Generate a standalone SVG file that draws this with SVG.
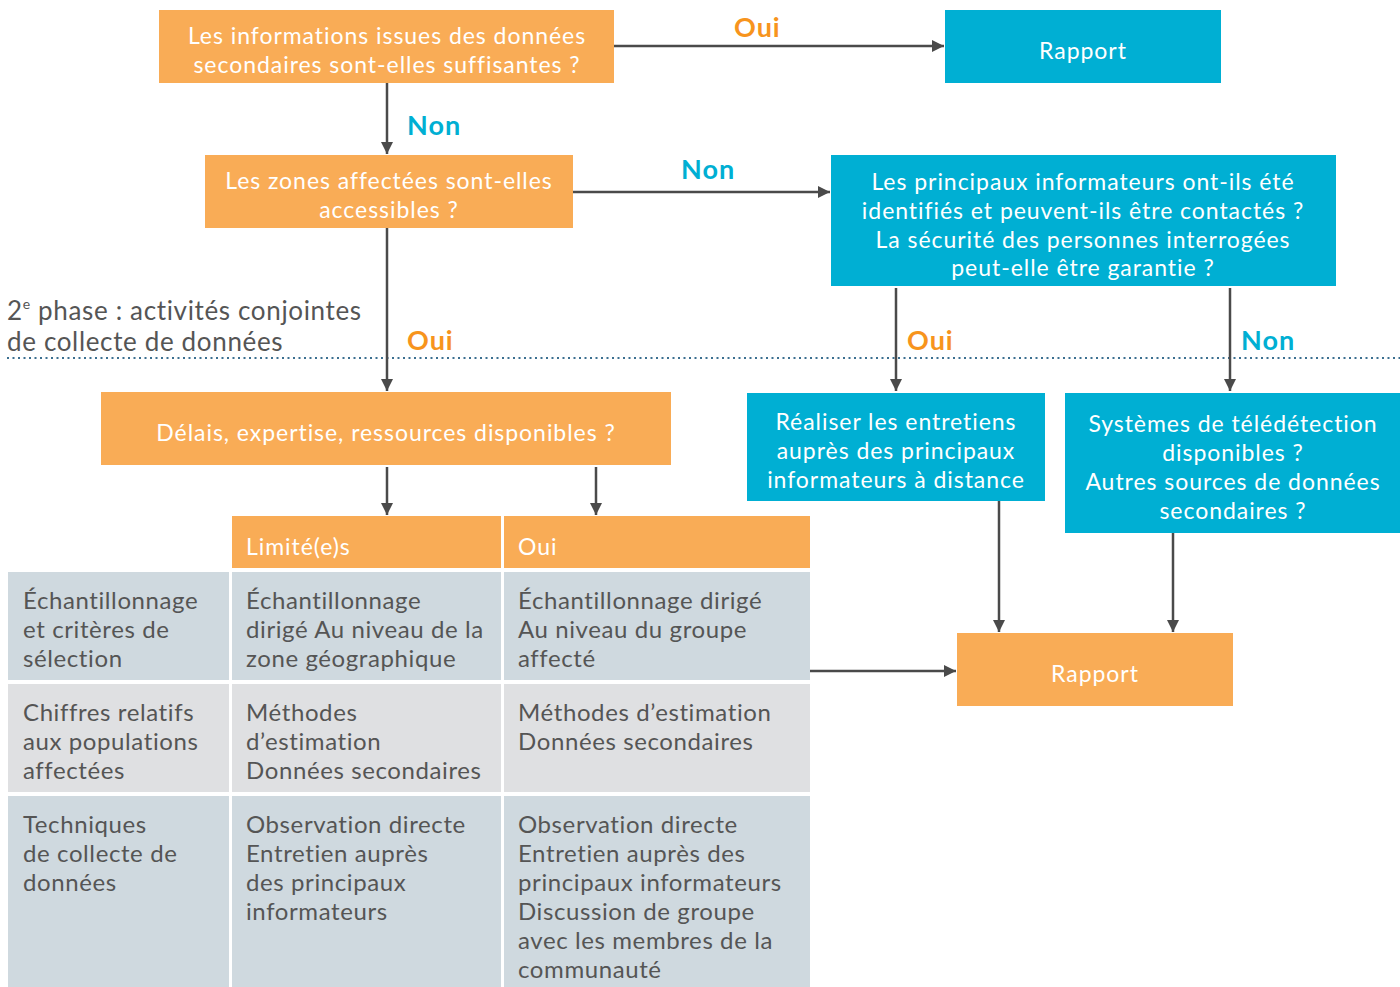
<svg xmlns="http://www.w3.org/2000/svg" width="1400" height="987" viewBox="0 0 1400 987">
<defs>
<marker id="ah" viewBox="0 0 12 12" refX="12" refY="6" markerWidth="12" markerHeight="12" markerUnits="userSpaceOnUse" orient="auto">
<path d="M0,0 L12,6 L0,12 z" fill="#4a4a4a"/>
</marker>
<style>
.or{fill:#f9ac56}
.bl{fill:#00afd3}
.t{font-family:Lato,"Noto Sans",sans-serif;font-size:23px;letter-spacing:0.95px;fill:#fff;text-anchor:middle}
.lbo{font-family:Lato,"Noto Sans",sans-serif;font-size:27px;letter-spacing:1px;font-weight:bold;fill:#f7941d}
.lbn{font-family:Lato,"Noto Sans",sans-serif;font-size:27px;letter-spacing:1px;font-weight:bold;fill:#00afd3}
.c{stroke:#4a4a4a;stroke-width:2.5;fill:none;marker-end:url(#ah)}
.tb{font-family:Lato,"Noto Sans",sans-serif;font-size:24px;letter-spacing:0.6px;fill:#555}
.th{font-family:Lato,"Noto Sans",sans-serif;font-size:23px;letter-spacing:0.95px;fill:#fff}
.ph{font-family:Lato,"Noto Sans",sans-serif;font-size:26px;letter-spacing:0.65px;fill:#555}
.r1{fill:#cfd9df}
.r2{fill:#dfe0e2}
</style>
</defs>
<rect width="1400" height="987" fill="#fff"/>

<g id="phase">
<text class="ph" x="7" y="320">2<tspan font-size="14" dy="-11">e</tspan><tspan dy="11"> phase : activités conjointes</tspan></text>
<text class="ph" x="7" y="351">de collecte de données</text>
<line x1="7" y1="358" x2="1400" y2="358" stroke="#3b6f90" stroke-width="2" stroke-dasharray="2 3.5"/>
</g>

<g id="n1"><rect class="or" x="159" y="10" width="455" height="73"/>
<text class="t" x="387" y="44">Les informations issues des données</text>
<text class="t" x="387" y="73">secondaires sont-elles suffisantes ?</text></g>

<g id="n2"><rect class="bl" x="945" y="10" width="276" height="73"/>
<text class="t" x="1083" y="59">Rapport</text></g>

<g id="n3"><rect class="or" x="205" y="155" width="368" height="73"/>
<text class="t" x="389" y="189">Les zones affectées sont-elles</text>
<text class="t" x="389" y="218">accessibles ?</text></g>

<g id="n4"><rect class="bl" x="831" y="155" width="505" height="131"/>
<text class="t" x="1083" y="190">Les principaux informateurs ont-ils été</text>
<text class="t" x="1083" y="219">identifiés et peuvent-ils être contactés ?</text>
<text class="t" x="1083" y="248">La sécurité des personnes interrogées</text>
<text class="t" x="1083" y="276">peut-elle être garantie ?</text></g>

<g id="n5"><rect class="or" x="101" y="392" width="570" height="73"/>
<text class="t" x="386" y="441">Délais, expertise, ressources disponibles ?</text></g>

<g id="n6"><rect class="bl" x="747" y="393" width="298" height="108"/>
<text class="t" x="896" y="430">Réaliser les entretiens</text>
<text class="t" x="896" y="459">auprès des principaux</text>
<text class="t" x="896" y="488">informateurs à distance</text></g>

<g id="n7"><rect class="bl" x="1065" y="393" width="335" height="140"/>
<text class="t" x="1233" y="432">Systèmes de télédétection</text>
<text class="t" x="1233" y="461">disponibles ?</text>
<text class="t" x="1233" y="490">Autres sources de données</text>
<text class="t" x="1233" y="519">secondaires ?</text></g>

<g id="n8"><rect class="or" x="957" y="633" width="276" height="73"/>
<text class="t" x="1095" y="682">Rapport</text></g>

<g id="table">
<rect class="or" x="232" y="516" width="269" height="52"/>
<rect class="or" x="504" y="516" width="306" height="52"/>
<text class="th" x="246" y="555">Limité(e)s</text>
<text class="th" x="518" y="555">Oui</text>
<rect class="r1" x="8" y="572" width="221" height="108"/>
<rect class="r1" x="232" y="572" width="269" height="108"/>
<rect class="r1" x="504" y="572" width="306" height="108"/>
<rect class="r2" x="8" y="684" width="221" height="108"/>
<rect class="r2" x="232" y="684" width="269" height="108"/>
<rect class="r2" x="504" y="684" width="306" height="108"/>
<rect class="r1" x="8" y="796" width="221" height="191"/>
<rect class="r1" x="232" y="796" width="269" height="191"/>
<rect class="r1" x="504" y="796" width="306" height="191"/>
<text class="tb" x="23" y="609">Échantillonnage</text>
<text class="tb" x="23" y="638">et critères de</text>
<text class="tb" x="23" y="667">sélection</text>
<text class="tb" x="246" y="609">Échantillonnage</text>
<text class="tb" x="246" y="638">dirigé Au niveau de la</text>
<text class="tb" x="246" y="667">zone géographique</text>
<text class="tb" x="518" y="609">Échantillonnage dirigé</text>
<text class="tb" x="518" y="638">Au niveau du groupe</text>
<text class="tb" x="518" y="667">affecté</text>
<text class="tb" x="23" y="721">Chiffres relatifs</text>
<text class="tb" x="23" y="750">aux populations</text>
<text class="tb" x="23" y="779">affectées</text>
<text class="tb" x="246" y="721">Méthodes</text>
<text class="tb" x="246" y="750">d’estimation</text>
<text class="tb" x="246" y="779">Données secondaires</text>
<text class="tb" x="518" y="721">Méthodes d’estimation</text>
<text class="tb" x="518" y="750">Données secondaires</text>
<text class="tb" x="23" y="833">Techniques</text>
<text class="tb" x="23" y="862">de collecte de</text>
<text class="tb" x="23" y="891">données</text>
<text class="tb" x="246" y="833">Observation directe</text>
<text class="tb" x="246" y="862">Entretien auprès</text>
<text class="tb" x="246" y="891">des principaux</text>
<text class="tb" x="246" y="920">informateurs</text>
<text class="tb" x="518" y="833">Observation directe</text>
<text class="tb" x="518" y="862">Entretien auprès des</text>
<text class="tb" x="518" y="891">principaux informateurs</text>
<text class="tb" x="518" y="920">Discussion de groupe</text>
<text class="tb" x="518" y="949">avec les membres de la</text>
<text class="tb" x="518" y="978">communauté</text>
</g>

<g id="connectors">
<line class="c" x1="614" y1="46" x2="944" y2="46"/>
<line class="c" x1="387" y1="83" x2="387" y2="154"/>
<line class="c" x1="573" y1="192" x2="830" y2="192"/>
<line class="c" x1="387" y1="228" x2="387" y2="391"/>
<line class="c" x1="896" y1="288" x2="896" y2="391"/>
<line class="c" x1="1230" y1="288" x2="1230" y2="391"/>
<line class="c" x1="387" y1="467" x2="387" y2="515"/>
<line class="c" x1="596" y1="467" x2="596" y2="515"/>
<line class="c" x1="999" y1="501" x2="999" y2="632"/>
<line class="c" x1="1173" y1="533" x2="1173" y2="632"/>
<line class="c" x1="810" y1="671" x2="956" y2="671"/>
<text class="lbo" x="734" y="37">Oui</text>
<text class="lbn" x="407" y="135">Non</text>
<text class="lbn" x="681" y="179">Non</text>
<text class="lbo" x="407" y="350">Oui</text>
<text class="lbo" x="907" y="350">Oui</text>
<text class="lbn" x="1241" y="350">Non</text>
</g>
</svg>
